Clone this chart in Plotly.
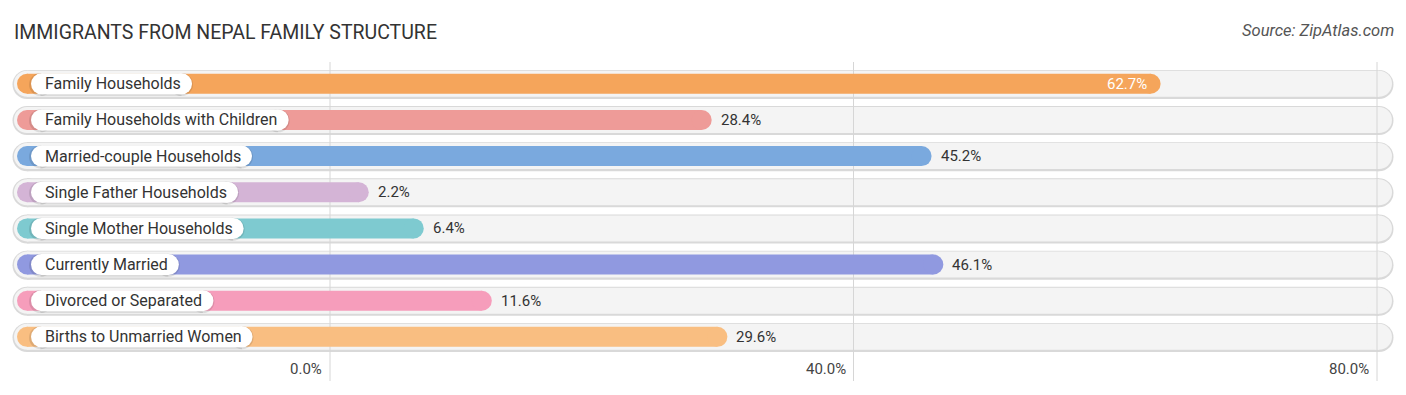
import plotly.graph_objects as go

# ---------------- data ----------------
categories = [
    "Family Households",
    "Family Households with Children",
    "Married-couple Households",
    "Single Father Households",
    "Single Mother Households",
    "Currently Married",
    "Divorced or Separated",
    "Births to Unmarried Women",
]
values = [62.7, 28.4, 45.2, 2.2, 6.4, 46.1, 11.6, 29.6]
bar_colors = ["#f5a55b", "#ee9b98", "#7aa9de", "#d4b4d6",
              "#7ecad0", "#9099e0", "#f69dbb", "#f9be81"]
tick_values = [0, 40, 80]
tick_labels = ["0.0%", "40.0%", "80.0%"]
title_text = "IMMIGRANTS FROM NEPAL FAMILY STRUCTURE"
source_text = "Source: ZipAtlas.com"

# ---------------- geometry (layout only) ----------------
W, H = 1406, 395
X0_PX, X80_PX = 330, 1377
SCALE = (X80_PX - X0_PX) / 80.0          # px per percent
XMIN = -X0_PX / SCALE
XMAX = XMIN + W / SCALE
ROW0_PX, ROW_STEP = 83.8, 36.15


def xd(px):
    return XMIN + px / SCALE


def yd(py):
    return (py - ROW0_PX) / ROW_STEP


# approximate Roboto advance widths (em) to size the label pills
_ADV = {
    " ": .248, "-": .276, "a": .544, "b": .561, "c": .523, "d": .563, "e": .529,
    "f": .347, "g": .561, "h": .551, "i": .243, "j": .239, "k": .507, "l": .243,
    "m": .876, "n": .552, "o": .570, "p": .561, "q": .568, "r": .338, "s": .516,
    "t": .327, "u": .551, "v": .484, "w": .751, "x": .496, "y": .473, "z": .496,
    "B": .622, "C": .652, "D": .656, "F": .553, "H": .713, "M": .873, "S": .593,
    "U": .648, "W": .887,
}


def text_w(s, size):
    return sum(_ADV.get(c, .56) for c in s) * size


LABEL_FONT = 16
VALUE_FONT = 15
FONT = "Roboto, Arial, sans-serif"

fig = go.Figure()
n = len(categories)
rows = list(range(n))

# track background (border + fill)
tx, ty, ty2 = [], [], []
for i in rows:
    tx += [xd(27), xd(1379), None]
    ty += [i + 0.6 / ROW_STEP, i + 0.6 / ROW_STEP, None]
    ty2 += [i, i, None]
fig.add_trace(go.Scatter(x=tx, y=ty, mode="lines+markers",
                         line=dict(color="#d9d9d9", width=29),
                         marker=dict(color="#d9d9d9", size=29),
                         hoverinfo="skip", cliponaxis=False))
fig.add_trace(go.Scatter(x=tx, y=ty2, mode="lines+markers",
                         line=dict(color="#f4f4f4", width=26),
                         marker=dict(color="#f4f4f4", size=26),
                         hoverinfo="skip", cliponaxis=False))

# gridlines above the tracks
gx, gy = [], []
for t in tick_values:
    gx += [t, t, None]
    gy += [yd(62), yd(381), None]
fig.add_trace(go.Scatter(x=gx, y=gy, mode="lines",
                         line=dict(color="#d6d6d6", width=1),
                         hoverinfo="skip"))

# bars
for i, (v, c) in enumerate(zip(values, bar_colors)):
    fig.add_trace(go.Scatter(x=[xd(27), v], y=[i, i], mode="lines+markers",
                             line=dict(color=c, width=20),
                             marker=dict(color=c, size=20),
                             hoverinfo="skip", cliponaxis=False))

# label pills
for i, cat in enumerate(categories):
    w = text_w(cat, LABEL_FONT)
    right = 44 + w + 12 - 10.5
    fig.add_trace(go.Scatter(x=[xd(40.5), xd(right)], y=[i + 0.8 / ROW_STEP] * 2,
                             mode="lines+markers",
                             line=dict(color="rgba(0,0,0,0.10)", width=23),
                             marker=dict(color="rgba(0,0,0,0.10)", size=23),
                             hoverinfo="skip", cliponaxis=False))
    fig.add_trace(go.Scatter(x=[xd(41.5), xd(right)], y=[i, i],
                             mode="lines+markers",
                             line=dict(color="#ffffff", width=21),
                             marker=dict(color="#ffffff", size=21),
                             hoverinfo="skip", cliponaxis=False))

annotations = []
for i, cat in enumerate(categories):
    annotations.append(dict(x=xd(43), y=i, xref="x", yref="y", text=cat,
                            showarrow=False, xanchor="left", yanchor="middle",
                            font=dict(family=FONT, size=LABEL_FONT, color="#333333")))

for i, v in enumerate(values):
    inside = v >= 0.75 * tick_values[-1]
    if inside:
        annotations.append(dict(x=v, y=i, xref="x", yref="y", text=f"{v:.1f}%",
                                showarrow=False, xanchor="right", yanchor="middle",
                                xshift=-2,
                                font=dict(family=FONT, size=VALUE_FONT, color="#ffffff")))
    else:
        annotations.append(dict(x=v, y=i, xref="x", yref="y", text=f"{v:.1f}%",
                                showarrow=False, xanchor="left", yanchor="middle",
                                xshift=17,
                                font=dict(family=FONT, size=VALUE_FONT, color="#333333")))

for t, lab in zip(tick_values, tick_labels):
    annotations.append(dict(x=t, y=yd(369), xref="x", yref="y", text=lab,
                            showarrow=False, xanchor="right", yanchor="middle",
                            xshift=-6,
                            font=dict(family=FONT, size=VALUE_FONT, color="#444444")))

annotations.append(dict(x=12 / W, y=1 - 32.5 / H, xref="paper", yref="paper",
                        text=title_text, showarrow=False, xanchor="left",
                        yanchor="middle",
                        font=dict(family=FONT, size=19.5, color="#333333")))
annotations.append(dict(x=1396 / W, y=1 - 31 / H, xref="paper", yref="paper",
                        text=f"<i>{source_text}</i>", showarrow=False,
                        xanchor="right", yanchor="middle",
                        font=dict(family=FONT, size=16.5, color="#555555")))

fig.update_layout(
    width=W, height=H,
    margin=dict(l=0, r=0, t=0, b=0, pad=0),
    paper_bgcolor="#ffffff", plot_bgcolor="#ffffff",
    showlegend=False,
    xaxis=dict(range=[XMIN, XMAX], visible=False, fixedrange=True),
    yaxis=dict(range=[yd(H), yd(0)], visible=False, fixedrange=True),
    annotations=annotations,
)

fig.write_html(
    "out.html",
    config={"displayModeBar": False},
    post_script="document.body.style.margin='0';document.body.style.overflow='hidden';",
)
